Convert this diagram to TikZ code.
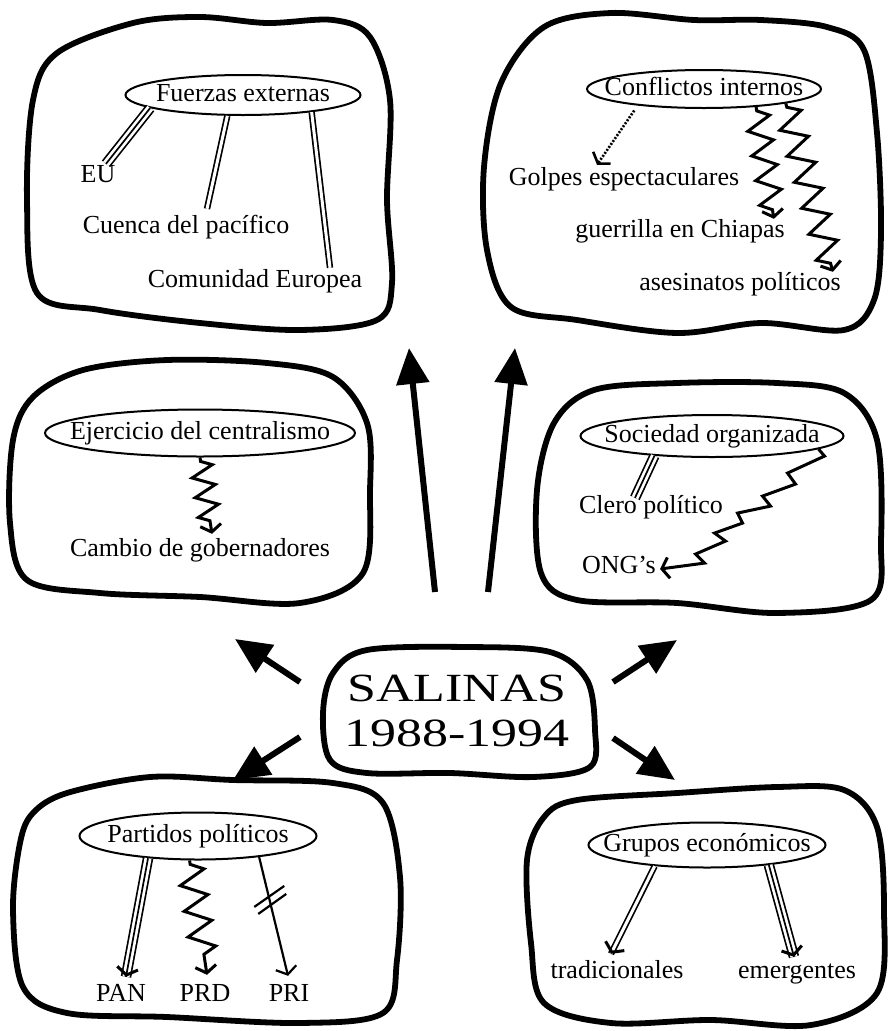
\documentclass[tikz,border=0pt]{standalone}
\usepackage{fontspec}
\setmainfont{Liberation Serif}
\newfontfamily\titulofont{Liberation Serif}[FakeStretch=1.3]
\usetikzlibrary{arrows.meta,calc,decorations.markings,decorations.pathmorphing,shapes.geometric}

\begin{document}
\begin{tikzpicture}[x=1pt,y=-1pt,
    blob/.style={line width=5.8pt,line join=round},
    tema/.style={ellipse,draw,line width=2pt,inner sep=0pt},
    txt/.style={inner sep=0pt,text height=18pt,text depth=6pt,font=\fontsize{26}{30}\selectfont},
    doble/.style={line width=6.4pt,postaction={draw,white,line width=3pt}},
    triple/.style={line width=1.7pt,preaction={draw,line width=10.5pt},preaction={draw,white,line width=7.1pt}},
    barb/.style={-{Straight Barb[length=7pt,width=21pt]}},
    punta/.style={postaction={decorate,decoration={markings,mark=at position 1 with {\arrow[black,line width=3pt]{Straight Barb[length=7pt,width=21pt]}}}}},
    zig/.style 2 args={line width=3pt,decorate,decoration={zigzag,segment length=#1,amplitude=#2,pre length=4pt,post length=8pt}},
    flecha/.style={line width=6pt,-{Triangle[length=36pt,width=32pt]}}]
  \useasboundingbox (0,0) rectangle (888,1031);

  % contornos
  \draw[blob] plot[smooth cycle,tension=0.55] coordinates {(57,53) (133,23) (200,17) (267,23) (333,20) (370,37) (390,100) (387,200) (392,283) (377,320) (300,330) (200,323) (100,310) (37,293) (27,200) (33,100)};
  \draw[blob] plot[smooth cycle,tension=0.55] coordinates {(501,83) (544,27) (611,13) (694,20) (761,20) (827,27) (864,50) (877,133) (881,233) (874,300) (844,330) (761,323) (677,333) (577,320) (511,307) (487,250) (484,167)};
  \draw[blob] plot[smooth cycle,tension=0.55] coordinates {(33,397) (83,370) (167,360) (267,363) (333,377) (367,423) (370,490) (363,573) (300,603) (200,597) (100,593) (27,580) (10,523) (13,440)};
  \draw[blob] plot[smooth cycle,tension=0.55] coordinates {(554,423) (594,390) (677,383) (777,383) (844,393) (877,440) (881,540) (871,600) (777,613) (677,603) (577,600) (541,573) (537,490)};
  \draw[blob] plot[smooth cycle,tension=0.55] coordinates {(333,673) (367,650) (467,647) (550,652) (587,680) (595,730) (590,767) (533,777) (450,773) (367,773) (330,760) (323,713)};
  \draw[blob] plot[smooth cycle,tension=0.55] coordinates {(33,813) (67,793) (150,777) (233,780) (333,783) (383,803) (400,877) (397,960) (383,1013) (300,1023) (167,1017) (67,1013) (23,987) (13,910) (20,843)};
  \draw[blob] plot[smooth cycle,tension=0.55] coordinates {(544,817) (577,800) (677,793) (777,787) (844,790) (877,827) (884,910) (877,993) (811,1025) (711,1020) (611,1023) (544,1003) (531,943) (527,860)};

  % centro
  \node[align=center,inner sep=0pt,font=\titulofont\fontsize{40}{45}\selectfont]
    (salinas) at (457,711) {SALINAS\\1988-1994};

  % temas
  \node[tema,minimum width=235pt,minimum height=40pt,label={[txt]center:Fuerzas externas}] (fuerzas) at (243,95) {};
  \node[tema,minimum width=234pt,minimum height=38pt,label={[txt]center:Conflictos internos}] (conflictos) at (704,89) {};
  \node[tema,minimum width=310pt,minimum height=47pt,label={[txt]center:Ejercicio del centralismo}] (ejercicio) at (200,433) {};
  \node[tema,minimum width=263pt,minimum height=42pt,label={[txt]center:Sociedad organizada}] (sociedad) at (712,436) {};
  \node[tema,minimum width=237pt,minimum height=47pt,label={[txt]center:Partidos políticos}] (partidos) at (198,836) {};
  \node[tema,minimum width=237pt,minimum height=45pt,label={[txt]center:Grupos económicos}] (grupos) at (707,845) {};

  % actores
  \node[txt] (eu) at (98,176) {EU};
  \node[txt] (cuenca) at (186,227) {Cuenca del pacífico};
  \node[txt] (comunidad) at (255,281) {Comunidad Europea};
  \node[txt] (golpes) at (624,179) {Golpes espectaculares};
  \node[txt] (guerrilla) at (680,231) {guerrilla en Chiapas};
  \node[txt] (asesinatos) at (740,284) {asesinatos políticos};
  \node[txt] (cambio) at (200,550) {Cambio de gobernadores};
  \node[txt] (clero) at (651,507) {Clero político};
  \node[txt] (ongs) at (619,567) {ONG's};
  \node[txt] (pan) at (121,995) {PAN};
  \node[txt] (prd) at (205,995) {PRD};
  \node[txt] (pri) at (289,995) {PRI};
  \node[txt] (trad) at (617,972) {tradicionales};
  \node[txt] (emerg) at (797,972) {emergentes};

  % relaciones
  \draw[triple] (fuerzas.188) -- ($(eu.north)+(8,0)$);
  \draw[doble] (fuerzas.233) -- ($(cuenca.north)+(21,-6)$);
  \draw[doble] (fuerzas.346) -- ($(comunidad.north)+(75,-1)$);

  \draw[line width=2.6pt,dash pattern=on 2pt off 1.6pt,shorten <=6pt,barb] (conflictos.194) -- ($(golpes.north)+(-27,-2)$);
  \draw[zig={25pt}{12pt},barb] (conflictos.341) -- ($(guerrilla.north east)+(-11,0)$);
  \draw[zig={27pt}{13pt},barb] (conflictos.350) -- ($(asesinatos.north east)+(-8,0)$);

  \draw[zig={20pt}{11pt},barb] (ejercicio.south) -- ($(cambio.north)+(12,-4)$);

  \draw[triple] (sociedad.199) -- ($(clero.north)+(-16,3)$);
  \draw[line width=3pt,line join=miter,barb] (sociedad.353) -- ++(6,7) -- ++(-37,17) -- ++(8,11)
    -- ++(-33,12) -- ++(8,10) -- ++(-33,7) -- ++(5,10) -- ++(-28,10) -- ++(11,8)
    -- ++(-30,13) -- ++(9,9) -- ($(ongs.east)+(4,2)$);

  \draw[triple,punta] (partidos.204) -- ($(pan.north)+(5,-6)$);
  \draw[zig={26pt}{13pt},barb] (partidos.251) -- ($(prd.north)+(2,-8)$);
  \draw[line width=2.2pt,barb] (partidos.341) -- coordinate[pos=0.42] (cruce) ($(pri.north)+(-1,-7)$);
  \draw[line width=2.2pt] ($(cruce)+(-17,0)$) -- ++(30,-21);
  \draw[line width=2.2pt] ($(cruce)+(-13,7)$) -- ++(28,-20);

  \draw[doble,punta] (grupos.202) -- ($(trad.north)+(-6,-6)$);
  \draw[triple,punta] (grupos.342) -- ($(emerg.north)+(-3,-3)$);

  % influencias
  \coordinate (c1) at (435,592); \coordinate (t1) at (409,348);
  \coordinate (c2) at (488,592); \coordinate (t2) at (515,348);
  \coordinate (c3) at (300,682); \coordinate (t3) at (235,639);
  \coordinate (c4) at (613,682); \coordinate (t4) at (677,640);
  \coordinate (c5) at (300,737); \coordinate (t5) at (233,780);
  \coordinate (c6) at (613,738); \coordinate (t6) at (675,780);
  \foreach \i in {1,...,6}
    \draw[flecha] (c\i) -- (t\i);
\end{tikzpicture}
\end{document}
